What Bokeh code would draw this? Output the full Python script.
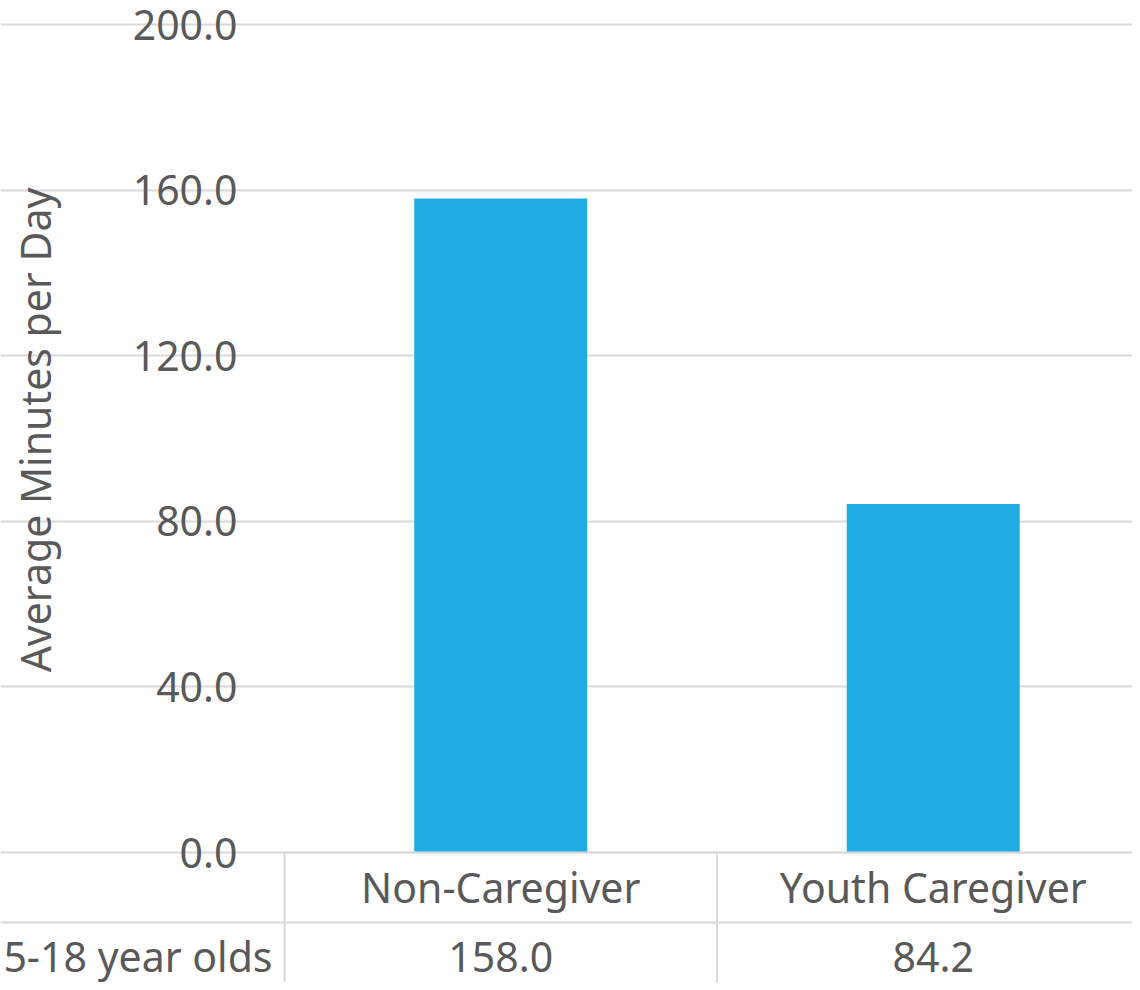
from bokeh.plotting import figure
from bokeh.models import Range1d, LinearAxis, FixedTicker, Grid
from bokeh.core.properties import value
from bokeh.embed import file_html
from bokeh.resources import INLINE

# ---- data ----
categories = ["Non-Caregiver", "Youth Caregiver"]
minutes = [158.0, 84.2]
row_label = "5-18 year olds"
y_ticks = [0, 40, 80, 120, 160, 200]
y_tick_labels = ["0.0", "40.0", "80.0", "120.0", "160.0", "200.0"]
y_title = "Average Minutes per Day"

# ---- layout constants ----
W, H = 1132, 982
PX_X = 432.5      # pixels per category
PX_Y = 4.14       # pixels per minute
LEFT_PX = 284     # canvas x of first category edge
BASE_PX = 852     # canvas y (from top) of value 0
ROW_PX = 70       # distance from baseline to data-table row line

x_start = -LEFT_PX / PX_X
x_end = (W - LEFT_PX) / PX_X
y_end = BASE_PX / PX_Y
y_start = -(H - BASE_PX) / PX_Y
row_line_y = -ROW_PX / PX_Y
row_text_y = -103 / PX_Y

FONT = "Noto Sans"
FS = "41px"
TXT = "#595959"
LINE = "#d9d9d9"
BAR = "#1EACE3"

cat_pos = [i + 0.5 for i in range(len(categories))]
edges = [float(i) for i in range(len(categories))]

p = figure(width=W, height=H, x_range=Range1d(x_start, x_end),
           y_range=Range1d(y_start, y_end), output_backend="svg",
           toolbar_location=None, min_border=0, x_axis_type=None,
           y_axis_type=None, outline_line_color=None)
p.background_fill_color = "white"
p.border_fill_color = "white"

grid = Grid(dimension=1, ticker=FixedTicker(ticks=y_ticks), bounds=(0, x_end),
            grid_line_color=LINE, grid_line_width=2)
p.add_layout(grid)

def style_axis(ax):
    ax.major_tick_line_color = None
    ax.minor_tick_line_color = None
    ax.major_tick_out = 0
    ax.major_tick_in = 0
    ax.minor_tick_out = 0
    ax.minor_tick_in = 0
    ax.major_label_text_font = FONT
    ax.major_label_text_font_size = FS
    ax.major_label_text_color = TXT

yaxis = LinearAxis(ticker=FixedTicker(ticks=y_ticks),
                   major_label_overrides={float(t): l for t, l in zip(y_ticks, y_tick_labels)},
                   fixed_location=0, axis_line_color=None,
                   bounds=(y_ticks[0], 204),
                   axis_label=y_title, axis_label_text_font=FONT,
                   axis_label_text_font_size=FS, axis_label_text_color=TXT,
                   axis_label_text_font_style="normal",
                   axis_label_standoff=67, major_label_standoff=47)
style_axis(yaxis)
p.add_layout(yaxis, "left")

xaxis = LinearAxis(ticker=FixedTicker(ticks=cat_pos),
                   major_label_overrides=dict(zip(cat_pos, categories)),
                   fixed_location=0, bounds=(0, x_end),
                   axis_line_color=LINE, axis_line_width=2,
                   major_label_standoff=6)
style_axis(xaxis)
p.add_layout(xaxis, "below")

vaxis = LinearAxis(ticker=FixedTicker(ticks=cat_pos),
                   major_label_overrides={c: f"{v:.1f}" for c, v in zip(cat_pos, minutes)},
                   fixed_location=row_line_y, bounds=(x_start, x_end),
                   axis_line_color=LINE, axis_line_width=2,
                   major_label_standoff=19)
style_axis(vaxis)
p.add_layout(vaxis, "below")

p.vbar(x=cat_pos, top=minutes, bottom=0, width=0.4, fill_color=BAR, line_color=None)

p.segment(x0=edges, y0=[0] * len(edges), x1=edges, y1=[y_start] * len(edges),
          line_color=LINE, line_width=2)

p.text(x=[-12 / PX_X], y=[row_text_y], text=[row_label], text_align="right",
       text_baseline="middle", text_font=value(FONT), text_font_size=FS,
       text_color=TXT)

open("out.html", "w").write(file_html(p, INLINE))
